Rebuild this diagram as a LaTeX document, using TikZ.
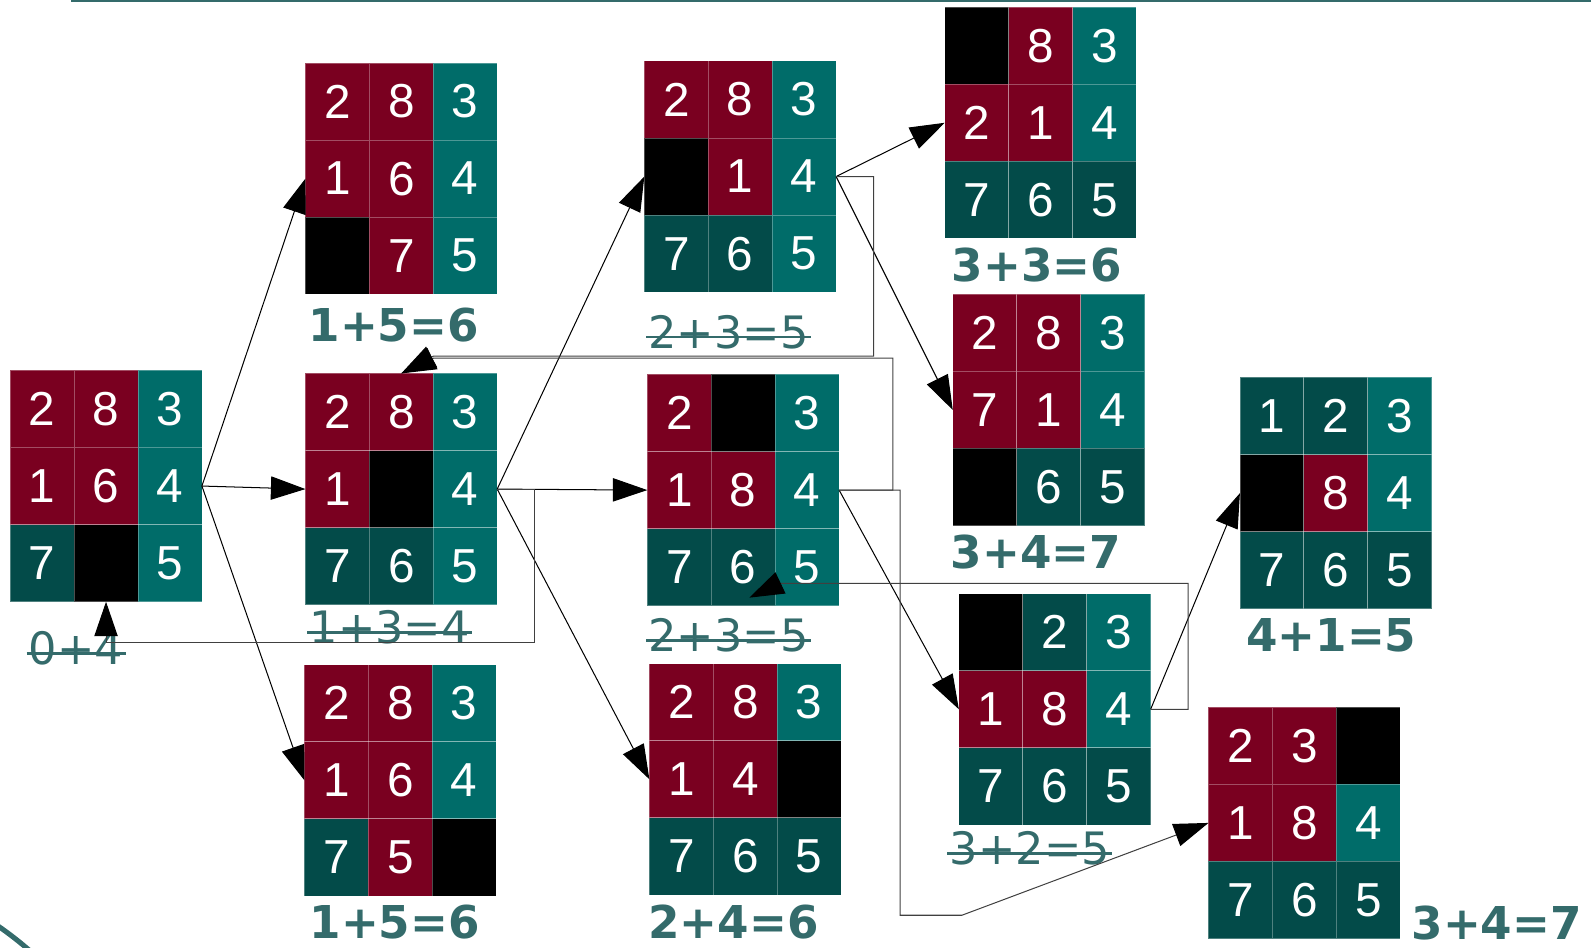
\documentclass[tikz,border=0pt]{standalone}
\usepackage{fontspec}
\usepackage{tikz}
\usetikzlibrary{arrows.meta}
\newfontfamily\cellfont{Liberation Sans}
\newfontfamily\sumfont{DejaVu Sans}
\definecolor{rd}{HTML}{7A0020}
\definecolor{tl}{HTML}{006C69}
\definecolor{dk}{HTML}{034B49}
\colorlet{bk}{black}
\definecolor{lbl}{HTML}{346B6B}

% one 3x3 board: name, top left corner, colour/number of the nine cells
\newcommand{\board}[3]{%
  \node[boardbox] (#1) at (#2) {};
  \begin{scope}[shift={(#2)}]
    \foreach \clr/\val [count=\i from 0] in {#3} {
      \pgfmathtruncatemacro{\cx}{mod(\i,3)}
      \pgfmathtruncatemacro{\cy}{floor(\i/3)}
      \fill[\clr] (\cx*63,\cy*76) rectangle ++(63,76);
      \draw[cellline] (\cx*63,\cy*76) rectangle ++(63,76);
      \node[digit] at (\cx*63+31.5,\cy*76+38) {\val};
    }
  \end{scope}
}
\newcommand{\strikeout}[1]{%
  \draw[strikeline] ([xshift=-1pt,yshift=5.4pt]#1.base west) -- ([xshift=1pt,yshift=5.4pt]#1.base east);
}

\begin{document}
\begin{tikzpicture}[x=0.5pt, y=-0.5pt,
    boardbox/.style={minimum width=94.5pt, minimum height=114pt, anchor=north west, inner sep=0pt, outer sep=0pt},
    digit/.style={font=\cellfont\fontsize{23.5pt}{28pt}\selectfont, text=white, inner sep=0pt},
    cellline/.style={draw=white, draw opacity=0.3, line width=0.4pt},
    sumbold/.style={font=\sumfont\bfseries\fontsize{22.3pt}{26pt}\selectfont, text=lbl, inner sep=0pt},
    sumplain/.style={font=\sumfont\fontsize{22pt}{26pt}\selectfont, text=lbl, inner sep=0pt},
    strikeline/.style={draw=lbl, line width=1.3pt},
    move/.style={draw=black, line width=0.5pt, -{Triangle[length=17pt,width=11.5pt,color=black]}},
    backmove/.style={draw=black!75, line width=0.5pt, -{Triangle[length=17pt,width=11.5pt,color=black]}}]
    \useasboundingbox (0,0) rectangle (1568,934);

    % slide decoration
    \draw[lbl, line width=1pt] (70,0.8) -- (1568,0.8);
    \begin{scope}
        \clip (0,0) rectangle (1568,934);
        \draw[lbl, line width=2.5pt] (-200,1200) circle[radius=174.5pt];
    \end{scope}

    % start board
    \board{s}{10,365}{rd/2,rd/8,tl/3,rd/1,rd/6,tl/4,dk/7,bk/{},tl/5}
    \node[sumplain] (l0) at (75,639) {0+4};
    \strikeout{l0}

    % depth 1
    \board{g1}{301,62}{rd/2,rd/8,tl/3,rd/1,rd/6,tl/4,bk/{},rd/7,tl/5}
    \board{g2}{301,368}{rd/2,rd/8,tl/3,rd/1,bk/{},tl/4,dk/7,dk/6,tl/5}
    \board{g3}{300,655}{rd/2,rd/8,tl/3,rd/1,rd/6,tl/4,dk/7,rd/5,bk/{}}
    \node[sumbold] (l1) at (388,320) {1+5=6};
    \node[sumplain] (l2) at (384,618) {1+3=4};
    \strikeout{l2}
    \node[sumbold] (l3) at (389,909) {1+5=6};

    % depth 2
    \board{g4}{635,60}{rd/2,rd/8,tl/3,bk/{},rd/1,tl/4,dk/7,dk/6,tl/5}
    \board{g5}{638,369}{rd/2,bk/{},tl/3,rd/1,rd/8,tl/4,dk/7,dk/6,tl/5}
    \board{g6}{640,654}{rd/2,rd/8,tl/3,rd/1,rd/4,bk/{},dk/7,dk/6,dk/5}
    \node[sumplain] (l4) at (718,327) {2+3=5};
    \strikeout{l4}
    \node[sumplain] (l5) at (718,626) {2+3=5};
    \strikeout{l5}
    \node[sumbold] (l6) at (723,909) {2+4=6};

    % depth 3
    \board{g7}{931,7}{bk/{},rd/8,tl/3,rd/2,rd/1,tl/4,dk/7,dk/6,dk/5}
    \board{g8}{939,290}{rd/2,rd/8,tl/3,rd/7,rd/1,tl/4,bk/{},dk/6,dk/5}
    \board{g9}{945,585}{bk/{},dk/2,tl/3,rd/1,rd/8,tl/4,dk/7,dk/6,dk/5}
    \node[sumbold] (l7) at (1022,261) {3+3=6};
    \node[sumbold] (l8) at (1021,544) {3+4=7};
    \node[sumplain] (l9) at (1015,836) {3+2=5};
    \strikeout{l9}

    % depth 4
    \board{g10}{1222,372}{dk/1,dk/2,tl/3,bk/{},rd/8,tl/4,dk/7,dk/6,dk/5}
    \board{g11}{1191,697}{rd/2,rd/3,bk/{},rd/1,rd/8,tl/4,dk/7,dk/6,dk/5}
    \node[sumbold] (l10) at (1312,626) {4+1=5};
    \node[sumbold] (l11) at (1475,910) {3+4=7};

    % expansions
    \draw[move] (s.east) -- (g1.west);
    \draw[move] (s.east) -- (g2.west);
    \draw[move] (s.east) -- (g3.west);
    \draw[move] (g2.east) -- (g4.west);
    \draw[move] (g2.east) -- (g5.west);
    \draw[move] (g2.east) -- (g6.west);
    \draw[move] (g4.east) -- (g7.west);
    \draw[move] (g4.east) -- (g8.west);
    \draw[move] (g5.east) -- (g9.west);
    \draw[move] (g9.east) -- (g10.west);

    % backtracking
    \draw[backmove] (g2.east) -| (527,633) -| (s.south);
    \draw[backmove] (g4.east) -| (861,351) -- (427,351) -- (g2.north);
    \draw[backmove] (g5.east) -| (880,353) -- (427,353) -- (g2.north);
    \draw[backmove] (g9.east) -| (1171,575) -- (768,575) -- ([xshift=3pt,yshift=4pt]g5.south);
    \draw[backmove] (g5.east) -| (887,902) -- (948,902) -- (g11.west);
\end{tikzpicture}
\end{document}
